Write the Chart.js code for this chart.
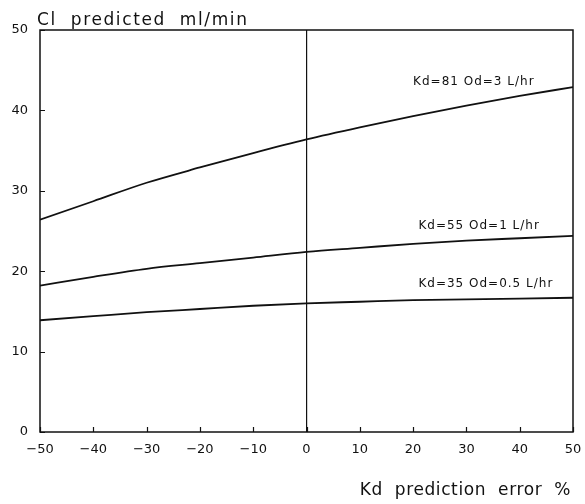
<!DOCTYPE html>
<html>
<head>
<meta charset="utf-8">
<script src="https://cdn.jsdelivr.net/npm/chart.js@4/dist/chart.umd.min.js"></script>
<style>
  html, body { margin: 0; padding: 0; background: #fff; }
  #wrap { width: 585px; height: 504px; }
</style>
</head>
<body>
<div id="wrap"><canvas id="c" width="585" height="504"></canvas></div>
<script>
// Kd prediction error (%) along the x axis
const errorPct = [-50, -40, -30, -20, -10, 0, 10, 20, 30, 40, 50];

// Predicted clearance (ml/min) for each Kd / Qd combination
const clKd81 = [26.4, 28.7, 31.0, 32.9, 34.7, 36.4, 37.9, 39.3, 40.6, 41.8, 42.9];
const clKd55 = [18.2, 19.3, 20.3, 21.0, 21.7, 22.4, 22.9, 23.4, 23.8, 24.1, 24.4];
const clKd35 = [13.9, 14.4, 14.9, 15.3, 15.7, 16.0, 16.2, 16.4, 16.5, 16.6, 16.7];

// Curve captions
const curveLabels = ["Kd=81 Od=3 L/hr", "Kd=55 Od=1 L/hr", "Kd=35 Od=0.5 L/hr"];
const labelAt = [[20, 43.5], [21, 25.6], [21, 18.4]];

const xTicks = [-50, -40, -30, -20, -10, 0, 10, 20, 30, 40, 50];
const yTicks = [0, 10, 20, 30, 40, 50];

const yTitle = "Cl  predicted  ml/min";
const xTitle = "Kd  prediction  error  %";

const INK = "#111";
const FONT = "'DejaVu Sans', sans-serif";

function series(vals) {
  return vals.map((v, i) => ({ x: errorPct[i], y: v }));
}

// Frame, inward tick marks, curve captions and axis titles
const decor = {
  id: "decor",
  afterDraw(chart) {
    const { ctx, chartArea: a, scales: { x, y } } = chart;
    ctx.save();
    ctx.strokeStyle = INK;
    ctx.lineWidth = 1.5;
    ctx.strokeRect(a.left, a.top, a.right - a.left, a.bottom - a.top);

    ctx.lineWidth = 1.2;
    ctx.beginPath();
    yTicks.forEach(v => {
      const py = Math.round(y.getPixelForValue(v)) + 0.5;
      ctx.moveTo(a.left, py); ctx.lineTo(a.left + 5, py);
    });
    xTicks.forEach(v => {
      const px = Math.round(x.getPixelForValue(v)) + 0.5;
      ctx.moveTo(px, a.bottom); ctx.lineTo(px, a.bottom - 5);
    });
    ctx.stroke();

    ctx.fillStyle = INK;
    ctx.font = "12px " + FONT;
    ctx.letterSpacing = "1px";
    ctx.textAlign = "left";
    ctx.textBaseline = "middle";
    curveLabels.forEach((t, i) => {
      ctx.fillText(t, x.getPixelForValue(labelAt[i][0]), y.getPixelForValue(labelAt[i][1]));
    });

    ctx.font = "17px " + FONT;
    ctx.textBaseline = "alphabetic";
    ctx.textAlign = "left";
    ctx.letterSpacing = "1.6px";
    ctx.fillText(yTitle, a.left - 3, a.top - 5);
    ctx.textAlign = "right";
    ctx.letterSpacing = "0.6px";
    ctx.fillText(xTitle, a.right - 2, 495);
    ctx.restore();
  }
};

new Chart(document.getElementById("c"), {
  type: "line",
  data: {
    datasets: [clKd81, clKd55, clKd35].map(d => ({
      data: series(d),
      borderColor: INK,
      borderWidth: 1.8,
      pointRadius: 0,
      tension: 0.4,
      cubicInterpolationMode: "monotone",
      fill: false
    }))
  },
  options: {
    responsive: false,
    animation: false,
    layout: { padding: { top: 30, right: 12, left: 0, bottom: 0 } },
    plugins: { legend: { display: false }, tooltip: { enabled: false } },
    scales: {
      x: {
        type: "linear",
        min: -50, max: 50,
        afterFit(s) { s.height = 72; s.paddingLeft = 0; s.paddingRight = 0; },
        afterBuildTicks(s) { s.ticks = xTicks.map(v => ({ value: v })); },
        border: { display: false },
        grid: {
          drawTicks: false,
          drawOnChartArea: true,
          color: c => (c.tick && c.tick.value === 0 ? INK : "rgba(0,0,0,0)"),
          lineWidth: 1.2
        },
        ticks: {
          color: INK,
          padding: 10,
          maxRotation: 0,
          font: { family: FONT, size: 13 },
          callback: v => (v < 0 ? "\u2212" + Math.abs(v) : String(v))
        }
      },
      y: {
        type: "linear",
        min: 0, max: 50,
        afterFit(s) { s.width = 40; s.paddingTop = 0; s.paddingBottom = 0; },
        afterBuildTicks(s) { s.ticks = yTicks.map(v => ({ value: v })); },
        border: { display: false },
        grid: { display: false, drawTicks: false },
        ticks: {
          color: INK,
          padding: 12,
          font: { family: FONT, size: 13 }
        }
      }
    }
  },
  plugins: [decor]
});
</script>
</body>
</html>
